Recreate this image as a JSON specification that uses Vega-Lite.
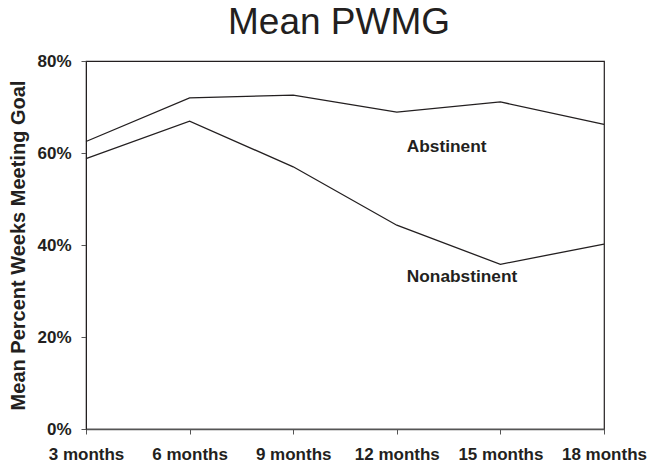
{
  "$schema": "https://vega.github.io/schema/vega-lite/v6.json",
  "width": 518,
  "height": 368,
  "autosize": {"type": "none"},
  "padding": {"left": 86, "top": 61, "right": 50, "bottom": 40},
  "background": "white",
  "title": {
    "text": "Mean PWMG",
    "font": "Liberation Sans",
    "fontSize": 37,
    "fontWeight": "normal",
    "color": "#231f20",
    "anchor": "middle",
    "dx": -6,
    "offset": 10
  },
  "config": {
    "view": {"stroke": "#231f20", "strokeWidth": 1.2},
    "font": "Liberation Sans"
  },
  "datasets": {
    "lines": [
      {"month": "3 months", "group": "Abstinent", "value": 0.625},
      {"month": "6 months", "group": "Abstinent", "value": 0.72},
      {"month": "9 months", "group": "Abstinent", "value": 0.726},
      {"month": "12 months", "group": "Abstinent", "value": 0.689},
      {"month": "15 months", "group": "Abstinent", "value": 0.711},
      {"month": "18 months", "group": "Abstinent", "value": 0.662},
      {"month": "3 months", "group": "Nonabstinent", "value": 0.588},
      {"month": "6 months", "group": "Nonabstinent", "value": 0.669},
      {"month": "9 months", "group": "Nonabstinent", "value": 0.57},
      {"month": "12 months", "group": "Nonabstinent", "value": 0.443},
      {"month": "15 months", "group": "Nonabstinent", "value": 0.358},
      {"month": "18 months", "group": "Nonabstinent", "value": 0.402}
    ],
    "labels": [
      {"month": "12 months", "label": "Abstinent", "value": 0.613},
      {"month": "12 months", "label": "Nonabstinent", "value": 0.33}
    ]
  },
  "layer": [
    {
      "data": {"name": "lines"},
      "mark": {"type": "line", "color": "#231f20", "strokeWidth": 1.3},
      "encoding": {
        "x": {
          "field": "month",
          "type": "ordinal",
          "sort": ["3 months", "6 months", "9 months", "12 months", "15 months", "18 months"],
          "scale": {"type": "point", "padding": 0},
          "axis": {
            "title": null,
            "labelAngle": 0,
            "labelFont": "Liberation Sans",
            "labelFontSize": 17,
            "labelFontWeight": "bold",
            "labelColor": "#231f20",
            "labelPadding": 12,
            "tickSize": 5,
            "tickColor": "#555555",
            "domainColor": "#555555",
            "domainWidth": 1.5,
            "grid": false
          }
        },
        "y": {
          "field": "value",
          "type": "quantitative",
          "scale": {"domain": [0, 0.8], "nice": false},
          "axis": {
            "title": "Mean Percent Weeks Meeting Goal",
            "titleFont": "Liberation Sans",
            "titleFontSize": 20,
            "titleFontWeight": "bold",
            "titleColor": "#231f20",
            "titlePadding": 8,
            "values": [0, 0.2, 0.4, 0.6, 0.8],
            "format": ".0%",
            "labelFont": "Liberation Sans",
            "labelFontSize": 17,
            "labelFontWeight": "bold",
            "labelColor": "#231f20",
            "labelPadding": 10,
            "tickSize": 5,
            "tickColor": "#555555",
            "domainColor": "#231f20",
            "grid": false
          }
        },
        "detail": {"field": "group"}
      }
    },
    {
      "data": {"name": "labels"},
      "mark": {
        "type": "text",
        "align": "left",
        "baseline": "middle",
        "dx": 10,
        "font": "Liberation Sans",
        "fontSize": 17.3,
        "fontWeight": "bold",
        "color": "#231f20"
      },
      "encoding": {
        "x": {
          "field": "month",
          "type": "ordinal",
          "sort": ["3 months", "6 months", "9 months", "12 months", "15 months", "18 months"]
        },
        "y": {"field": "value", "type": "quantitative"},
        "text": {"field": "label"}
      }
    }
  ]
}
